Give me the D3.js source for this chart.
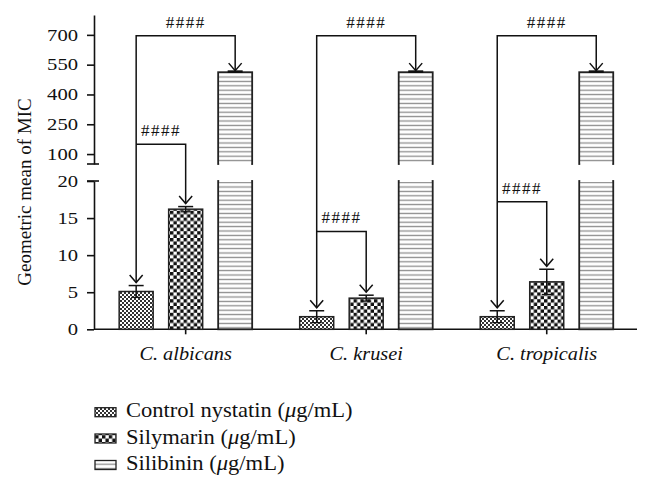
<!DOCTYPE html>
<html><head><meta charset="utf-8">
<script src="https://cdn.jsdelivr.net/npm/d3@7"></script>
<style>body{margin:0;background:#fff}svg{display:block}text{font-family:"Liberation Serif","DejaVu Serif",serif;fill:#111}</style>
</head><body><svg id="c" width="652" height="489"></svg>
<script>
const categories = ["C. albicans", "C. krusei", "C. tropicalis"];
const seriesKeys = ["nystatin", "silymarin", "silibinin"];
const seriesLabels = ["Control nystatin (", "Silymarin (", "Silibinin ("];
const nystatin = [5.1, 1.7, 1.7];
const nystatinErr = [0.8, 0.8, 0.8];
const silymarin = [16.2, 4.2, 6.4];
const silymarinErr = [0.35, 0.4, 1.7];
const silibinin = [512, 512, 512];
const silibininErr = [3, 3, 3];
const lowTicks = [0, 5, 10, 15, 20];
const highTicks = [100, 250, 400, 550, 700];
const bigBracket = [695, 695, 695];
const smallBracket = [149, 13.2, 17.2];
const sigLabel = "####";

const values = {nystatin, silymarin, silibinin};
const errors = {nystatin: nystatinErr, silymarin: silymarinErr, silibinin: silibininErr};

const svg = d3.select("#c");
const defs = svg.append("defs");
const p1 = defs.append("pattern").attr("id","pat-nystatin").attr("patternUnits","userSpaceOnUse").attr("width",4).attr("height",4);
p1.append("rect").attr("width",4).attr("height",4).attr("fill","#fff");
p1.append("rect").attr("width",2).attr("height",2).attr("fill","#333");
p1.append("rect").attr("x",2).attr("y",2).attr("width",2).attr("height",2).attr("fill","#333");
const p2 = defs.append("pattern").attr("id","pat-silymarin").attr("patternUnits","userSpaceOnUse").attr("width",6.8).attr("height",6.8);
p2.append("rect").attr("width",6.8).attr("height",6.8).attr("fill","#fff");
p2.append("rect").attr("width",3.4).attr("height",3.4).attr("fill","#111");
p2.append("rect").attr("x",3.4).attr("y",3.4).attr("width",3.4).attr("height",3.4).attr("fill","#111");
const p3 = defs.append("pattern").attr("id","pat-silibinin").attr("patternUnits","userSpaceOnUse").attr("width",8).attr("height",4.4);
p3.append("rect").attr("width",8).attr("height",4.4).attr("fill","#fff");
p3.append("line").attr("x1",0).attr("x2",8).attr("y1",2.2).attr("y2",2.2).attr("stroke","#8c8c8c").attr("stroke-width",1.3);

const axisX = 94;
const yLow = d3.scaleLinear().domain([0, 20]).range([329.3, 181]);
const yHigh = d3.scaleLinear().domain([50, 800]).range([164, 15]);
const yAny = v => v <= 20 ? yLow(v) : yHigh(v);

const x0 = d3.scaleBand().domain(categories).range([95.4, 637]);
const x1 = d3.scaleBand().domain(seriesKeys).range([0, x0.bandwidth()]).paddingInner(0.313).paddingOuter(0.48);
const cx = (c, k) => x0(c) + x1(k) + x1.bandwidth() / 2;

const gLow = svg.append("g").attr("transform", `translate(${axisX},0)`)
  .call(d3.axisLeft(yLow).tickValues(lowTicks).tickSize(7).tickSizeOuter(0).tickPadding(9));
const gHigh = svg.append("g").attr("transform", `translate(${axisX},0)`)
  .call(d3.axisLeft(yHigh).tickValues(highTicks).tickSize(7).tickSizeOuter(0).tickPadding(9));
[gLow, gHigh].forEach(g => {
  g.selectAll("path.domain").attr("stroke","#111").attr("stroke-width",1.6);
  g.selectAll(".tick line").attr("stroke","#111").attr("stroke-width",1.6);
  g.selectAll(".tick text").attr("font-size","16.5px").attr("font-family","Liberation Serif").attr("fill","#111")
    .attr("x", 0).attr("transform", "translate(-16,0) scale(1.25,1)");
});
[yHigh(50), yLow(20)].forEach(y => {
  svg.append("line").attr("x1", axisX - 7).attr("x2", axisX + 5).attr("y1", y).attr("y2", y)
    .attr("stroke","#111").attr("stroke-width",1.6);
});

const gx = svg.append("g").attr("transform", `translate(0,${yLow(0)})`)
  .call(d3.axisBottom(x0).tickSize(5).tickSizeOuter(0).tickPadding(12));
gx.select("path.domain").attr("d", `M${axisX},0H${x0.range()[1]}`).attr("stroke","#111").attr("stroke-width",1.6);
gx.selectAll(".tick line").attr("stroke","#111").attr("stroke-width",1.6);
gx.selectAll(".tick text").attr("font-size","19px").attr("font-style","italic").attr("font-family","Liberation Serif").attr("fill","#111")
  .attr("transform", "scale(1.07,1)");

const bars = svg.append("g");
categories.forEach((c, i) => {
  seriesKeys.forEach(k => {
    const v = values[k][i];
    const x = x0(c) + x1(k), w = x1.bandwidth();
    const segs = v > 20 ? [[yLow(20), yLow(0)], [yHigh(v), yHigh(50)]] : [[yLow(v), yLow(0)]];
    segs.forEach(([top, bot]) => {
      bars.append("rect").attr("x", x).attr("y", top).attr("width", w).attr("height", bot - top)
        .attr("fill", `url(#pat-${k})`).attr("stroke", "#222").attr("stroke-width", k === "silibinin" ? 1.8 : 1.5);
      if (v > 20 && top === yLow(20)) {
        bars.append("line").attr("x1", x + 1).attr("x2", x + w - 1).attr("y1", top).attr("y2", top).attr("stroke","#fff").attr("stroke-width",2);
      }
      if (v > 20 && bot === yHigh(50)) {
        bars.append("line").attr("x1", x + 1).attr("x2", x + w - 1).attr("y1", bot).attr("y2", bot).attr("stroke","#fff").attr("stroke-width",2);
      }
    });
    const e = errors[k][i];
    const xc = x + w / 2;
    const yt = yAny(v + e), yb = yAny(v - e);
    bars.append("line").attr("x1", xc).attr("x2", xc).attr("y1", yt).attr("y2", yb).attr("stroke","#111").attr("stroke-width",1.5);
    bars.append("line").attr("x1", xc - 7.5).attr("x2", xc + 7.5).attr("y1", yt).attr("y2", yt).attr("stroke","#111").attr("stroke-width", k === "silibinin" ? 2.6 : 1.5);
    if (k !== "silibinin") bars.append("line").attr("x1", xc - 5).attr("x2", xc + 5).attr("y1", yb).attr("y2", yb).attr("stroke","#111").attr("stroke-width",1.3);
  });
});

const ann = svg.append("g").attr("fill","none").attr("stroke","#111").attr("stroke-width",1.5);
function arrowHead(x, y) {
  ann.append("path").attr("d", `M${x - 6.5},${y - 7.5}L${x},${y}L${x + 6.5},${y - 7.5}`);
}
categories.forEach((c, i) => {
  const xa = cx(c, "nystatin");
  const tipA = yAny(nystatin[i] + nystatinErr[i]) - 3;
  const yBig = yHigh(bigBracket[i]);
  const ySmall = yAny(smallBracket[i]);
  const xs = cx(c, "silibinin");
  const tipS = yHigh(silibinin[i] + silibininErr[i]) - 1;
  ann.append("path").attr("d", `M${xa},${tipA}V${yBig}H${xs}V${tipS}`);
  arrowHead(xa, tipA);
  arrowHead(xs, tipS);
  const xm = cx(c, "silymarin");
  const tipM = yAny(silymarin[i] + silymarinErr[i]) - 3;
  ann.append("path").attr("d", `M${xa},${ySmall}H${xm}V${tipM}`);
  arrowHead(xm, tipM);
  svg.append("text").attr("x", (xa + xs) / 2).attr("y", yBig - 8).attr("text-anchor","middle")
    .attr("font-size","17px").attr("letter-spacing","1.5px").text(sigLabel);
  svg.append("text").attr("x", (xa + xm) / 2).attr("y", ySmall - 8).attr("text-anchor","middle")
    .attr("font-size","17px").attr("letter-spacing","1.5px").text(sigLabel);
});

svg.append("text").attr("transform", "translate(31,192) rotate(-90)").attr("text-anchor","middle")
  .attr("font-size","19px").text("Geometric mean of MIC");

const legend = svg.append("g");
const rowY = [407.7, 434, 460.5];
seriesKeys.forEach((k, i) => {
  legend.append("rect").attr("x", 95).attr("y", rowY[i]).attr("width", 21).attr("height", 9)
    .attr("fill", `url(#pat-${k})`).attr("stroke","#222").attr("stroke-width",1.3);
  const t = legend.append("text").attr("x", 0).attr("y", 0).attr("font-size","20.5px")
    .attr("transform", `translate(126,${rowY[i] + 9.5}) scale(1.1,1)`);
  t.append("tspan").text(seriesLabels[i]);
  t.append("tspan").attr("font-style","italic").text("μ");
  t.append("tspan").text("g/mL)");
});
</script></body></html>
